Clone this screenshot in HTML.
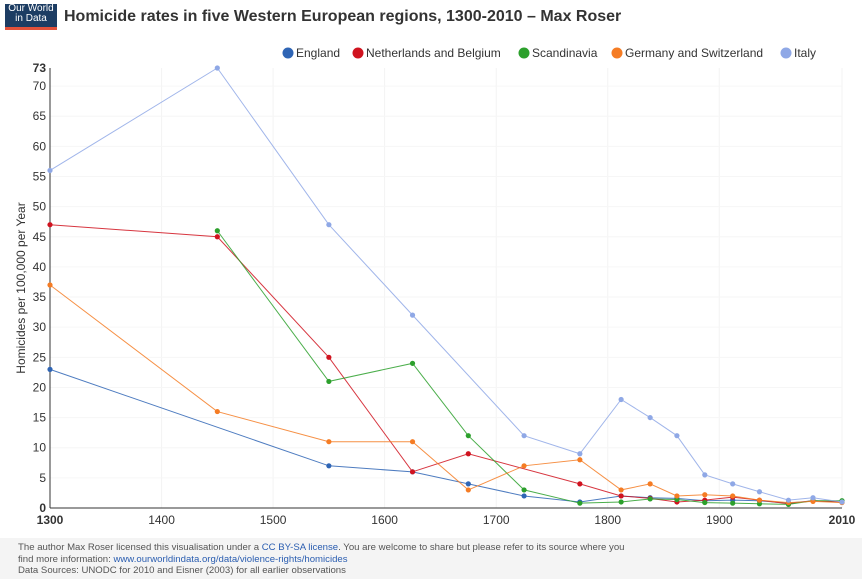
<!DOCTYPE html>
<html><head><meta charset="utf-8"><style>
body{margin:0;width:862px;height:579px;background:#fff;font-family:"Liberation Sans",sans-serif;overflow:hidden;position:relative}
#logo{position:absolute;left:5px;top:4px;width:52px;height:23px;background:#1d3d63;color:#fff;font-size:10px;line-height:10px;text-align:center;border-bottom:3px solid #e2513a}
#title{position:absolute;left:64px;top:8px;font-size:16px;font-weight:bold;color:#333}
#footer{position:absolute;left:0;top:538px;width:862px;height:41px;background:#f4f4f4;font-size:9.6px;color:#555;padding:4px 0 0 18px;box-sizing:border-box;line-height:11.5px}
#footer a{color:#2a5db0;text-decoration:none}
</style></head><body>
<div id="logo">Our World<br>in Data</div>
<div id="title">Homicide rates in five Western European regions, 1300-2010 – Max Roser</div>
<svg id="chart" width="862" height="538" style="position:absolute;left:0;top:0"></svg>
<div id="footer">The author Max Roser licensed this visualisation under a <a>CC BY-SA license</a>. You are welcome to share but please refer to its source where you<br>find more information: <a>www.ourworldindata.org/data/violence-rights/homicides</a><br>Data Sources: UNODC for 2010 and Eisner (2003) for all earlier observations</div>
<script>
const seriesNames=["England","Netherlands and Belgium","Scandinavia","Germany and Switzerland","Italy"];
const colors=["#2f65b5","#d0131f","#2ca02c","#f57c24","#8fa8e6"];
const englandX=[1300,1550,1625,1675,1725,1775,1812,1838,1862,1887,1912,1936,1962,1984,2010];
const englandY=[23,7,6,4,2,1,2,1.7,1.6,1.2,1.3,1.2,0.8,1.2,1];
const netherlandsX=[1300,1450,1550,1625,1675,1775,1812,1838,1862,1887,1912,1936,1962,1984,2010];
const netherlandsY=[47,45,25,6,9,4,2,1.6,1,1.3,1.8,1.3,0.7,1.2,1];
const scandinaviaX=[1450,1550,1625,1675,1725,1775,1812,1838,1862,1887,1912,1936,1962,1984,2010];
const scandinaviaY=[46,21,24,12,3,0.8,1,1.5,1.4,0.9,0.8,0.7,0.6,1.2,1.2];
const germanyX=[1300,1450,1550,1625,1675,1725,1775,1812,1838,1862,1887,1912,1936,1962,1984,2010];
const germanyY=[37,16,11,11,3,7,8,3,4,2,2.2,2,1.3,0.9,1.1,0.9];
const italyX=[1300,1450,1550,1625,1725,1775,1812,1838,1862,1887,1912,1936,1962,1984,2010];
const italyY=[56,73,47,32,12,9,18,15,12,5.5,4,2.7,1.3,1.7,1];
const xTicks=[1300,1400,1500,1600,1700,1800,1900,2010];
const yTicks=[0,5,10,15,20,25,30,35,40,45,50,55,60,65,70,73];
const ns="http://www.w3.org/2000/svg",svg=document.getElementById('chart');
const X=v=>50+(v-1300)*(792/710), Y=v=>508-v*(440/73);
function mk(t,a,p){const e=document.createElementNS(ns,t);for(const k in a)e.setAttribute(k,a[k]);(p||svg).appendChild(e);return e;}
xTicks.forEach((t,i)=>{
 if(i>0){const g=mk('line',{x1:X(t),x2:X(t),y1:68,y2:508,stroke:'#f3f3f3'});
 
 }
 const tx=mk('text',{x:X(t),y:524,'text-anchor':'middle','font-size':12,fill:'#333','font-weight':(i==0||i==xTicks.length-1)?'bold':'normal'});tx.textContent=t;
 
 
});
yTicks.forEach((t,i)=>{
 if(t>0&&t<73){const g=mk('line',{x1:50,x2:842,y1:Y(t),y2:Y(t),stroke:'#f6f6f6'});
 
 }
 const tx=mk('text',{x:46,y:Y(t)+4,'text-anchor':'end','font-size':12,fill:'#333','font-weight':(t==0||t==73)?'bold':'normal'});tx.textContent=t;
 
 
});
const ax=mk('line',{x1:50,x2:50,y1:68,y2:508,stroke:'#333'});


const ax2=mk('line',{x1:50,x2:842,y1:508,y2:508,stroke:'#333'});


const yt=mk('text',{transform:'translate(25,288) rotate(-90)','text-anchor':'middle','font-size':12,fill:'#333'});yt.textContent='Homicides per 100,000 per Year';


const data=[[englandX,englandY],[netherlandsX,netherlandsY],[scandinaviaX,scandinaviaY],[germanyX,germanyY],[italyX,italyY]];
data.forEach((d,s)=>{
 const pts=d[0].map((x,i)=>X(x)+','+Y(d[1][i])).join(' ');
 const l=mk('polyline',{points:pts,fill:'none',stroke:colors[s],'stroke-width':1,opacity:0.85});
 
 
 d[0].forEach((x,i)=>{const c=mk('circle',{cx:X(x),cy:Y(d[1][i]),r:2.6,fill:colors[s]});
  
  });
});
const legX=[283,353,519,612,781];
seriesNames.forEach((n,i)=>{
 const c=mk('circle',{cx:legX[i]+5,cy:53,r:5.5,fill:colors[i]});
 
 
 const t=mk('text',{x:legX[i]+13,y:57,'font-size':12,fill:'#333'});t.textContent=n;
 
 
});
</script>
</body></html>
